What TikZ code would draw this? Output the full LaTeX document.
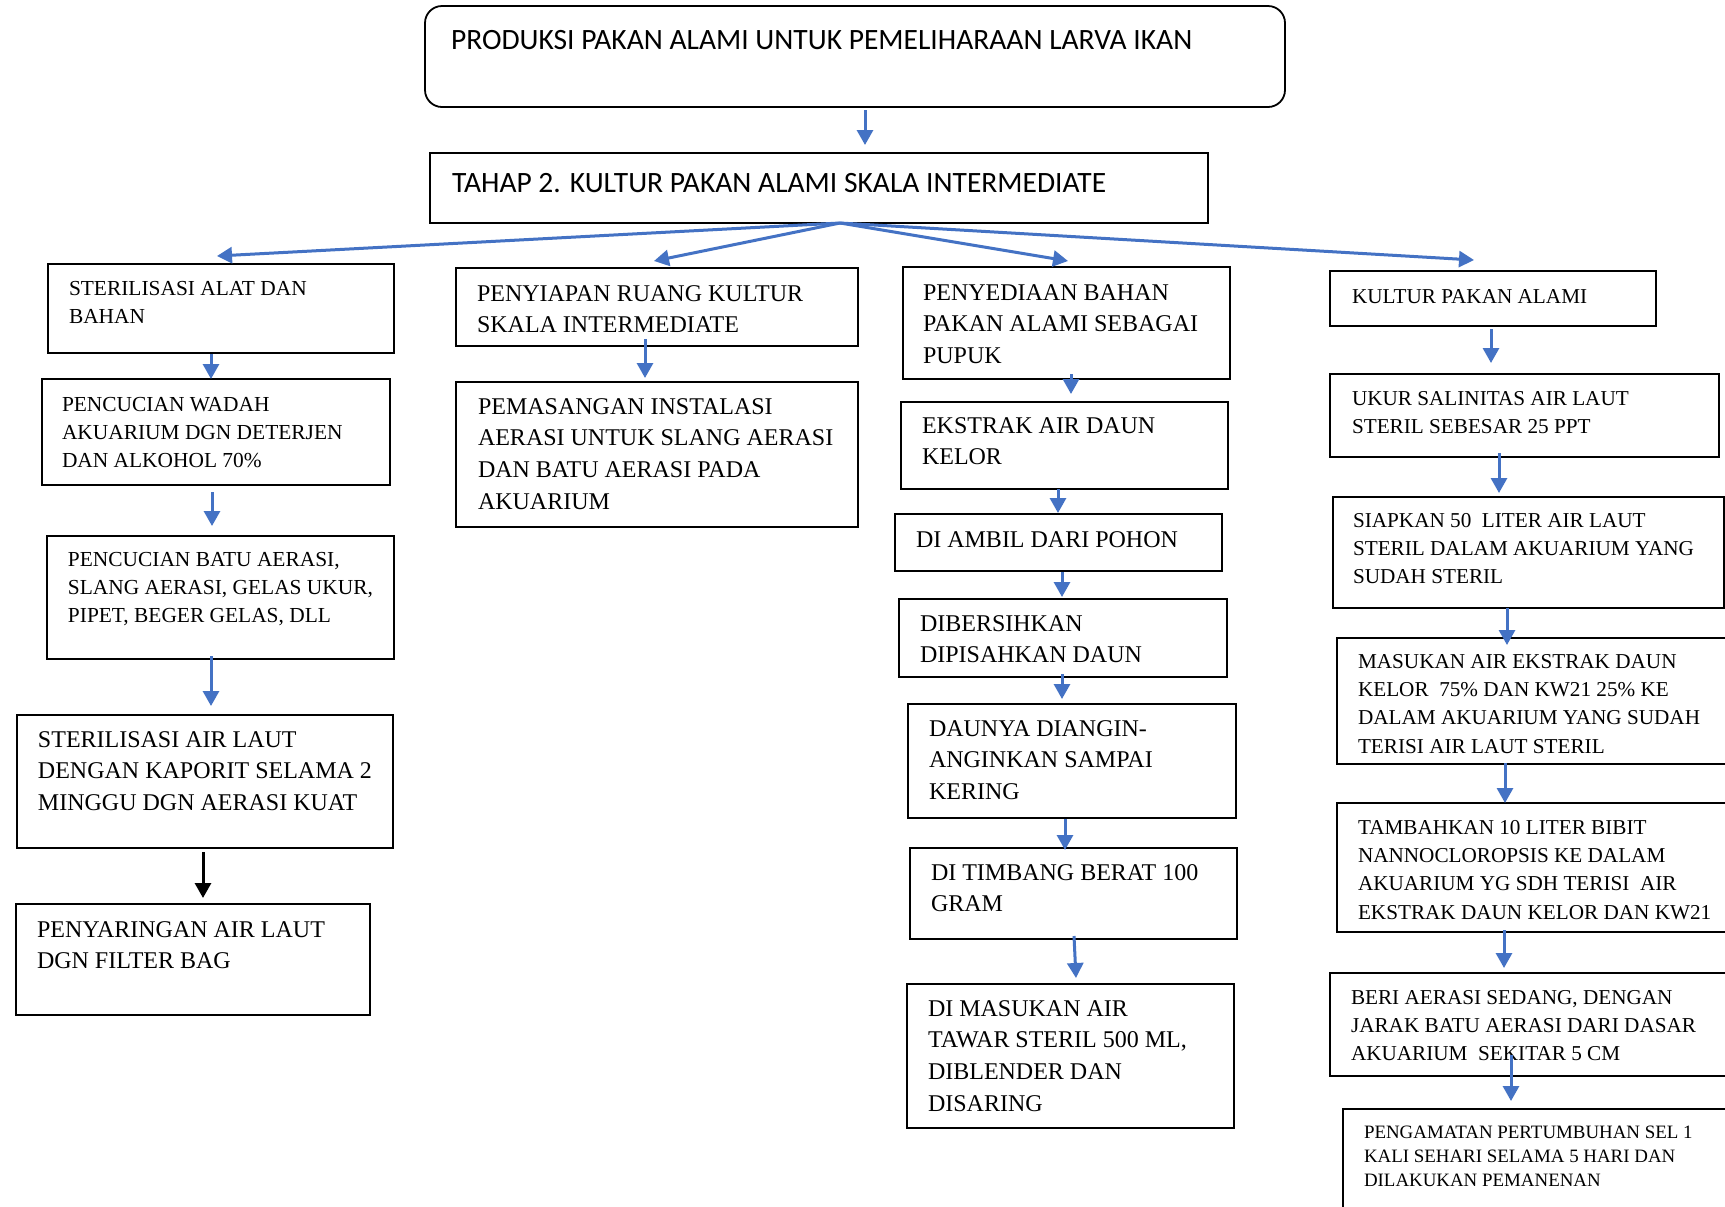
\documentclass[tikz,border=0pt]{standalone}
\usepackage{fontspec}
\setmainfont{Liberation Serif}
\newfontfamily\hdfont{Carlito}
\usetikzlibrary{arrows.meta,calc}
\definecolor{arrblue}{HTML}{4472C4}
\tikzset{
  boxst/.style={draw=black, line width=0.9pt, rectangle, inner sep=0pt, outer sep=0pt},
  arr/.style={draw=arrblue, line width=1.5pt, -{Triangle[length=7.5pt,width=8pt]}},
  blkarr/.style={draw=black, line width=1.5pt, -{Triangle[length=7.5pt,width=8pt]}},
  lbl/.style={anchor=base west, inner sep=0pt, outer sep=0pt},
}
\newcommand\bx[6][]{\node[boxst,#1, minimum width={(#5-#3)*0.5pt}, minimum height={(#6-#4)*0.5pt}] (#2) at ({(#3+#5)/2},{(#4+#6)/2}) {};}
\newcommand\tx[6]{\node[lbl] (#1) at (#2,#3) {\parbox[t]{20cm}{\fontsize{#4}{#5}\selectfont\raggedright #6}};}
\begin{document}
\begin{tikzpicture}[x=0.5pt,y=-0.5pt]
\useasboundingbox (0,0) rectangle (1725,1206);
\fill[white] (0,0) rectangle (1725,1206);
\clip (0,0) rectangle (1725,1206);
% boxes
\bx[rounded corners=8.5pt]{top}{425}{6}{1285}{107}
\bx{tahap}{430}{153}{1208}{223}
\bx{b1}{48}{264}{394}{353}
\bx{b2}{42}{379}{390}{485}
\bx{b3}{47}{536}{394}{659}
\bx{b4}{17}{715}{393}{848}
\bx{b5}{16}{904}{370}{1015}
\bx{c1}{456}{268}{858}{346}
\bx{c2}{456}{382}{858}{527}
\bx{d1}{903}{267}{1230}{379}
\bx{d2}{901}{402}{1228}{489}
\bx{d3}{895}{514}{1222}{571}
\bx{d4}{899}{599}{1227}{677}
\bx{d5}{908}{704}{1236}{818}
\bx{d6}{910}{848}{1237}{939}
\bx{d7}{907}{984}{1234}{1128}
\bx{e1}{1330}{271}{1656}{326}
\bx{e2}{1330}{374}{1719}{457}
\bx{e3}{1333}{497}{1724}{608}
\bx{e4}{1337}{638}{1745}{764}
\bx{e5}{1337}{803}{1745}{932}
\bx{e6}{1330}{973}{1745}{1076}
\bx{e7}{1343}{1109}{1745}{1240}
% texts
\tx{ttop}{451}{49}{14.75pt}{17pt}{\hdfont PRODUKSI PAKAN ALAMI UNTUK PEMELIHARAAN LARVA IKAN}
\tx{ttahap}{452}{192}{14.75pt}{17pt}{\hdfont TAHAP 2. KULTUR PAKAN ALAMI SKALA INTERMEDIATE}
\tx{tb1}{69}{295}{10.7pt}{14.1pt}{STERILISASI ALAT DAN\\BAHAN}
\tx{tb2}{62}{411}{10.7pt}{14.1pt}{PENCUCIAN WADAH\\AKUARIUM DGN DETERJEN\\DAN ALKOHOL 70\%}
\tx{tb3}{68}{566}{10.7pt}{14.1pt}{PENCUCIAN BATU AERASI,\\SLANG AERASI, GELAS UKUR,\\PIPET, BEGER GELAS, DLL}
\tx{tb4}{38}{747}{12pt}{15.9pt}{STERILISASI AIR LAUT\\DENGAN KAPORIT SELAMA 2\\MINGGU DGN AERASI KUAT}
\tx{tb5}{37}{937}{12pt}{15.9pt}{PENYARINGAN AIR LAUT\\DGN FILTER BAG}
\tx{tc1}{477}{301}{12pt}{15.9pt}{PENYIAPAN RUANG KULTUR\\SKALA INTERMEDIATE}
\tx{tc2}{478}{414}{12pt}{15.9pt}{PEMASANGAN INSTALASI\\AERASI UNTUK SLANG AERASI\\DAN BATU AERASI PADA\\AKUARIUM}
\tx{td1}{923}{300}{12pt}{15.9pt}{PENYEDIAAN BAHAN\\PAKAN ALAMI SEBAGAI\\PUPUK}
\tx{td2}{922}{433}{12pt}{15.9pt}{EKSTRAK AIR DAUN\\KELOR}
\tx{td3}{916}{547}{12pt}{15.9pt}{DI AMBIL DARI POHON}
\tx{td4}{920}{631}{12pt}{15.9pt}{DIBERSIHKAN\\DIPISAHKAN DAUN}
\tx{td5}{929}{736}{12pt}{15.9pt}{DAUNYA DIANGIN-\\ANGINKAN SAMPAI\\KERING}
\tx{td6}{931}{880}{12pt}{15.9pt}{DI TIMBANG BERAT 100\\GRAM}
\tx{td7}{928}{1016}{12pt}{15.9pt}{DI MASUKAN AIR\\TAWAR STERIL 500 ML,\\DIBLENDER DAN\\DISARING}
\tx{te1}{1352}{303}{10.6pt}{14.2pt}{KULTUR PAKAN ALAMI}
\tx{te2}{1352}{405}{10.6pt}{14.2pt}{UKUR SALINITAS AIR LAUT\\STERIL SEBESAR 25 PPT}
\tx{te3}{1353}{527}{10.6pt}{14.2pt}{SIAPKAN 50\ \ LITER AIR LAUT\\STERIL DALAM AKUARIUM YANG\\SUDAH STERIL}
\tx{te4}{1358}{668}{10.6pt}{14.2pt}{MASUKAN AIR EKSTRAK DAUN\\KELOR\ \ 75\% DAN KW21 25\% KE\\DALAM AKUARIUM YANG SUDAH\\TERISI AIR LAUT STERIL}
\tx{te5}{1358}{834}{10.6pt}{14.2pt}{TAMBAHKAN 10 LITER BIBIT\\NANNOCLOROPSIS KE DALAM\\AKUARIUM YG SDH TERISI\ \ AIR\\EKSTRAK DAUN KELOR DAN KW21}
\tx{te6}{1351}{1004}{10.6pt}{14.2pt}{BERI AERASI SEDANG, DENGAN\\JARAK BATU AERASI DARI DASAR\\AKUARIUM\ \ SEKITAR 5 CM}
\tx{te7}{1364}{1138}{9.45pt}{12pt}{PENGAMATAN PERTUMBUHAN SEL 1\\KALI SEHARI SELAMA 5 HARI DAN\\DILAKUKAN PEMANENAN}
% connectors
\draw[arr] ($(top.south)+(10,3)$) -- ($(tahap.north)+(46,-8)$);
\coordinate (fan) at ($(tahap.south)+(21,0)$);
\draw[arr] (fan) -- ($(b1.north)+(-4,-8)$);
\draw[arr] (fan) -- ($(c1.north)+(-3,-7)$);
\draw[arr] (fan) -- ($(d1.north)+(1.5,-6)$);
\draw[arr] (fan) -- ($(e1.north)+(-19,-11)$);
\draw[arr] ($(b1.south)+(-10,1)$) -- ($(b2.north)+(-5,0)$);
\draw[arr] ($(b2.south)+(-4,7)$) -- ($(b3.north)+(-8.5,-10)$);
\draw[arr] ($(b3.south)+(-9.5,-3)$) -- ($(b4.north)+(6,-9)$);
\draw[blkarr] ($(b4.south)+(-2,4)$) -- ($(b5.north)+(10,-6)$);
\draw[arr] ($(c1.south)+(-12,-7)$) -- ($(c2.north)+(-12,-4)$);
\draw[arr] ($(d1.south)+(4.5,-5)$) -- ($(d2.north)+(6.5,-8)$);
\draw[arr] ($(d2.south)+(-6.5,0)$) -- ($(d3.north)+(-0.5,-1)$);
\draw[arr] ($(d3.south)+(3.5,1)$) -- ($(d4.north)+(-1,-2)$);
\draw[arr] ($(d4.south)+(-1,-3)$) -- ($(d5.north)+(-10,-5)$);
\draw[arr] ($(d5.south)+(-7,1)$) -- ($(d6.north)+(-8.5,2)$);
\draw[arr] ($(d6.south)+(0.5,-3)$) -- ($(d7.north)+(5.5,-6)$);
\draw[arr] ($(e1.south)+(-2,3)$) -- ($(e2.north)+(-33.5,-11)$);
\draw[arr] ($(e2.south)+(-25.5,-4)$) -- ($(e3.north)+(-29.5,-4)$);
\draw[arr] ($(e3.south)+(-21.5,0)$) -- ($(e4.north)+(-34,7)$);
\draw[arr] ($(e4.south)+(-36,-1)$) -- ($(e5.north)+(-36,0)$);
\draw[arr] ($(e5.south)+(-37,-2)$) -- ($(e6.north)+(-33.5,-5)$);
\draw[arr] ($(e6.south)+(-26.5,-21)$) -- ($(e7.north)+(-33,-8)$);
\end{tikzpicture}
\end{document}
